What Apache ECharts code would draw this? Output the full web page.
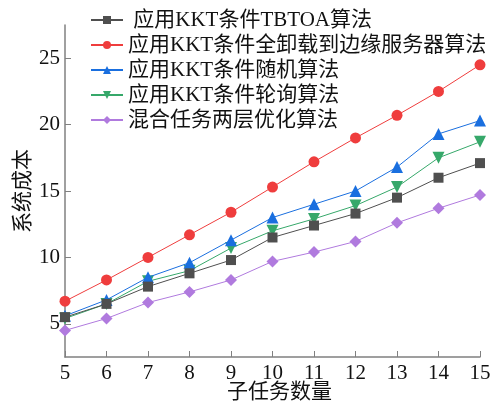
<!DOCTYPE html>
<html>
<head>
    <meta charset="UTF-8">
    <title>系统成本</title>
    <script src="https://cdn.jsdelivr.net/npm/echarts@6/dist/echarts.min.js"></script>
    <style>
        body { margin: 0; }
        #chart { width: 491px; height: 401px; }
    </style>
</head>
<body>
<div id="chart"></div>
<script>
    // 子任务数量
    var taskCounts = [5, 6, 7, 8, 9, 10, 11, 12, 13, 14, 15];
    var yTicks = [5, 10, 15, 20, 25];

    var seriesNames = [
        ' 应用KKT条件TBTOA算法',
        '应用KKT条件全卸载到边缘服务器算法',
        '应用KKT条件随机算法',
        '应用KKT条件轮询算法',
        '混合任务两层优化算法'
    ];

    var tbtoa = [5.5, 6.5, 7.8, 8.8, 9.8, 11.5, 12.4, 13.3, 14.5, 16.0, 17.1];
    var fullOffload = [6.7, 8.3, 10.0, 11.7, 13.4, 15.3, 17.2, 19.0, 20.7, 22.5, 24.5];
    var randomAlg = [5.6, 6.8, 8.5, 9.6, 11.3, 13.0, 14.0, 15.0, 16.8, 19.3, 20.3];
    var roundRobin = [5.4, 6.5, 8.2, 9.0, 10.7, 12.0, 12.9, 13.9, 15.3, 17.5, 18.7];
    var hybrid = [4.5, 5.4, 6.6, 7.4, 8.3, 9.7, 10.4, 11.2, 12.6, 13.7, 14.7];

    var allValues = [tbtoa, fullOffload, randomAlg, roundRobin, hybrid];
    var colors = ['#4f4f4f', '#ef3d3d', '#1a6fdf', '#36a86a', '#b07ade'];
    var symbols = ['rect', 'circle', 'triangle', 'path://M0,0 L10,0 L5,9 Z', 'diamond'];
    var sizes = [10, 11, 12, 12, 12];

    var font = '"Liberation Serif", "Noto Sans CJK SC", serif';

    var chart = echarts.init(document.getElementById('chart'));

    var series = seriesNames.map(function (name, i) {
        return {
            name: name,
            type: 'line',
            data: taskCounts.map(function (x, j) { return [x, allValues[i][j]]; }),
            symbol: symbols[i],
            symbolSize: sizes[i],
            lineStyle: { width: 1, color: colors[i] },
            itemStyle: { color: colors[i] },
            z: 10 - i
        };
    });

    var option = {
        animation: false,
        grid: { left: 65, right: 11, top: 25, bottom: 44, outerBoundsMode: 'none' },
        legend: {
            orient: 'vertical',
            left: 90,
            top: 9,
            padding: 0,
            itemWidth: 32,
            itemHeight: 10,
            itemGap: 3,
            textStyle: { fontFamily: font, fontSize: 21, lineHeight: 22, color: '#111' },
            data: seriesNames
        },
        xAxis: {
            type: 'value',
            min: 5,
            max: 15,
            interval: 1,
            name: '子任务数量',
            nameLocation: 'middle',
            nameGap: 25,
            nameMoveOverlap: false,
            nameTextStyle: { fontFamily: font, fontSize: 21, color: '#111', padding: [0, 0, 0, 14] },
            axisLine: { lineStyle: { color: '#808080', width: 1.5 } },
            axisTick: { inside: true, length: 6, lineStyle: { color: '#808080' } },
            axisLabel: { fontFamily: font, fontSize: 21, color: '#111', margin: 6 },
            splitLine: { show: false }
        },
        yAxis: {
            type: 'value',
            min: 2.5,
            max: 27.5,
            name: '系统成本',
            nameLocation: 'middle',
            nameGap: 31,
            nameMoveOverlap: false,
            nameTextStyle: { fontFamily: font, fontSize: 21, color: '#111' },
            axisLine: { show: true, lineStyle: { color: '#808080', width: 1.5 } },
            axisTick: { inside: true, length: 6, customValues: yTicks, lineStyle: { color: '#808080' } },
            axisLabel: { fontFamily: font, fontSize: 21, color: '#111', margin: 5, customValues: yTicks },
            splitLine: { show: false }
        },
        series: series
    };

    chart.setOption(option);
</script>
</body>
</html>
